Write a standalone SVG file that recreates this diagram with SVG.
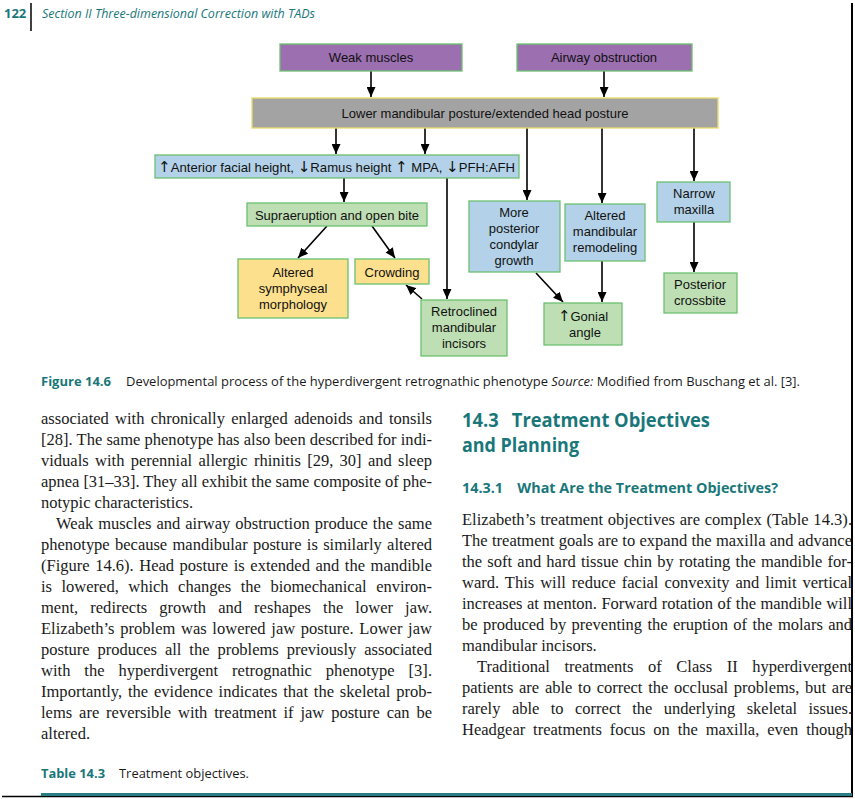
<svg xmlns="http://www.w3.org/2000/svg" width="855" height="799" viewBox="0 0 855 799">
<style>
.bx{stroke:#6cc070;stroke-width:1.3}
.pu{fill:#9b6fb0}
.gy{fill:#a4a3a4;stroke:#e9dc66;stroke-width:1.3}
.bl{fill:#b3d1e8}
.gr{fill:#bedfb4}
.ye{fill:#fde08e}
.nt{font-family:"Liberation Sans",Arial,sans-serif;font-size:13px;fill:#111;text-anchor:middle}
.ar{font-family:"DejaVu Sans",sans-serif;font-size:15px}
.con line{stroke:#000;stroke-width:1.6;marker-end:url(#ah)}
.body{font-family:"Liberation Serif","Times New Roman",serif;font-size:16.5px;fill:#1a1a1a}
.teal{fill:#19777a}
.hd{font-family:"Open Sans","Noto Sans",sans-serif;font-weight:bold}
.cap{font-family:"Open Sans","Noto Sans",sans-serif;font-size:12px;fill:#1a1a1a}
</style>
<defs>
<marker id="ah" markerUnits="userSpaceOnUse" markerWidth="10" markerHeight="9" refX="10" refY="4.5" orient="auto">
<path d="M0,0 L10,4.5 L0,9 z" fill="#000"/>
</marker>
</defs>
<rect width="855" height="799" fill="#fff"/>

<!-- page header -->
<text x="4" y="18" class="hd teal" font-size="13">122</text>
<line x1="31" y1="3" x2="31" y2="31" stroke="#000" stroke-width="1.5"/>
<text x="42" y="18" font-family="'Open Sans','Noto Sans',sans-serif" font-style="italic" font-size="13" class="teal" textLength="273" lengthAdjust="spacingAndGlyphs">Section II  Three-dimensional Correction with TADs</text>

<!-- connectors -->
<g id="connectors" class="con">
<line x1="371" y1="71" x2="371" y2="97"/>
<line x1="604" y1="71" x2="604" y2="97"/>
<line x1="336" y1="128" x2="336" y2="154"/>
<line x1="425" y1="128" x2="425" y2="154"/>
<line x1="527" y1="128" x2="527" y2="200"/>
<line x1="602" y1="128" x2="602" y2="203"/>
<line x1="694" y1="128" x2="694" y2="181"/>
<line x1="344" y1="178" x2="344" y2="202"/>
<line x1="447" y1="178" x2="447" y2="299"/>
<line x1="327" y1="226" x2="298" y2="258"/>
<line x1="372" y1="226" x2="395" y2="258"/>
<line x1="422" y1="299" x2="406" y2="285"/>
<line x1="536" y1="273" x2="563" y2="302"/>
<line x1="602" y1="261" x2="602" y2="302"/>
<line x1="694" y1="222" x2="694" y2="272"/>
</g>

<g id="weak-muscles"><rect x="280" y="44" width="182" height="27" class="bx pu"/><text x="371" y="62" class="nt">Weak muscles</text></g>
<g id="airway-obstruction"><rect x="517" y="44" width="175" height="27" class="bx pu"/><text x="604" y="62" class="nt">Airway obstruction</text></g>
<g id="lower-mandibular"><rect x="252" y="98" width="466" height="30" class="gy"/><text x="485" y="117.5" class="nt">Lower mandibular posture/extended head posture</text></g>
<g id="facial-height"><rect x="155" y="155" width="364" height="23" class="bx bl"/><text x="158" y="171.5" class="nt" style="text-anchor:start" textLength="357" lengthAdjust="spacingAndGlyphs"><tspan class="ar">↑</tspan>Anterior facial height, <tspan class="ar">↓</tspan>Ramus height <tspan class="ar">↑</tspan> MPA, <tspan class="ar">↓</tspan>PFH:AFH</text></g>
<g id="supraeruption"><rect x="247" y="203" width="180" height="23" class="bx gr"/><text x="337" y="219.5" class="nt">Supraeruption and open bite</text></g>
<g id="symphyseal"><rect x="238" y="259" width="110" height="59" class="bx ye"/><text class="nt"><tspan x="293" y="277">Altered</tspan><tspan x="293" y="293">symphyseal</tspan><tspan x="293" y="309">morphology</tspan></text></g>
<g id="crowding"><rect x="355" y="259" width="74" height="25" class="bx ye"/><text x="392" y="276.5" class="nt">Crowding</text></g>
<g id="retroclined"><rect x="421" y="300" width="86" height="56" class="bx gr"/><text class="nt"><tspan x="464" y="316">Retroclined</tspan><tspan x="464" y="332">mandibular</tspan><tspan x="464" y="348">incisors</tspan></text></g>
<g id="condylar"><rect x="469" y="201" width="91" height="71" class="bx bl"/><text class="nt"><tspan x="514" y="217">More</tspan><tspan x="514" y="233">posterior</tspan><tspan x="514" y="249">condylar</tspan><tspan x="514" y="265">growth</tspan></text></g>
<g id="remodeling"><rect x="565" y="204" width="80" height="57" class="bx bl"/><text class="nt"><tspan x="605" y="220">Altered</tspan><tspan x="605" y="236">mandibular</tspan><tspan x="605" y="252">remodeling</tspan></text></g>
<g id="gonial"><rect x="544" y="303" width="78" height="42" class="bx gr"/><text class="nt"><tspan x="583" y="321"><tspan class="ar">↑</tspan>Gonial</tspan><tspan x="585" y="337">angle</tspan></text></g>
<g id="narrow-maxilla"><rect x="657" y="182" width="73" height="40" class="bx bl"/><text class="nt"><tspan x="694" y="198">Narrow</tspan><tspan x="694" y="214">maxilla</tspan></text></g>
<g id="crossbite"><rect x="664" y="273" width="73" height="40" class="bx gr"/><text class="nt"><tspan x="700" y="289">Posterior</tspan><tspan x="700" y="305">crossbite</tspan></text></g>

<!-- caption -->
<text x="41" y="386" class="hd teal" font-size="12.5" textLength="70" lengthAdjust="spacingAndGlyphs">Figure 14.6</text>
<text x="126" y="386" class="cap" textLength="674" lengthAdjust="spacingAndGlyphs">Developmental process of the hyperdivergent retrognathic phenotype <tspan font-style="italic">Source:</tspan> Modified from Buschang et al. [3].</text>

<!-- left column -->
<g class="body">
<text x="41" y="424" word-spacing="2.1" textLength="391" lengthAdjust="spacing">associated with chronically enlarged adenoids and tonsils</text>
<text x="41" y="445" textLength="391" lengthAdjust="spacing">[28]. The same phenotype has also been described for indi-</text>
<text x="41" y="466" word-spacing="2.2" textLength="391" lengthAdjust="spacing">viduals with perennial allergic rhinitis [29, 30] and sleep</text>
<text x="41" y="487" textLength="391" lengthAdjust="spacing">apnea [31–33]. They all exhibit the same composite of phe-</text>
<text x="41" y="508">notypic characteristics.</text>
<text x="56" y="529" word-spacing="0.8" textLength="376" lengthAdjust="spacing">Weak muscles and airway obstruction produce the same</text>
<text x="41" y="550" word-spacing="1.2" textLength="391" lengthAdjust="spacing">phenotype because mandibular posture is similarly altered</text>
<text x="41" y="571" word-spacing="1.45" textLength="391" lengthAdjust="spacing">(Figure 14.6). Head posture is extended and the mandible</text>
<text x="41" y="592" word-spacing="5.4" textLength="391" lengthAdjust="spacing">is lowered, which changes the biomechanical environ-</text>
<text x="41" y="613" word-spacing="7.9" textLength="391" lengthAdjust="spacing">ment, redirects growth and reshapes the lower jaw.</text>
<text x="41" y="634" word-spacing="1.5" textLength="391" lengthAdjust="spacing">Elizabeth’s problem was lowered jaw posture. Lower jaw</text>
<text x="41" y="655" word-spacing="3.8" textLength="391" lengthAdjust="spacing">posture produces all the problems previously associated</text>
<text x="41" y="676" word-spacing="9.8" textLength="391" lengthAdjust="spacing">with the hyperdivergent retrognathic phenotype [3].</text>
<text x="41" y="697" word-spacing="1.65" textLength="391" lengthAdjust="spacing">Importantly, the evidence indicates that the skeletal prob-</text>
<text x="41" y="718" word-spacing="2.8" textLength="391" lengthAdjust="spacing">lems are reversible with treatment if jaw posture can be</text>
<text x="41" y="739">altered.</text>
</g>

<text x="41" y="778" class="hd teal" font-size="12.5" textLength="64" lengthAdjust="spacingAndGlyphs">Table 14.3</text>
<text x="119" y="778" class="cap" textLength="130" lengthAdjust="spacingAndGlyphs">Treatment objectives.</text>

<!-- right column -->
<text x="462" y="427" class="hd teal" font-size="19.5" textLength="248" lengthAdjust="spacingAndGlyphs">14.3<tspan dx="14">Treatment Objectives</tspan></text>
<text x="462" y="452" class="hd teal" font-size="19.5" textLength="117" lengthAdjust="spacingAndGlyphs">and Planning</text>
<text x="462" y="493" class="hd teal" font-size="14" textLength="316" lengthAdjust="spacingAndGlyphs">14.3.1<tspan dx="14">What Are the Treatment Objectives?</tspan></text>
<g class="body">
<text x="462" y="525" word-spacing="0.55" textLength="390" lengthAdjust="spacing">Elizabeth’s treatment objectives are complex (Table 14.3).</text>
<text x="462" y="546" word-spacing="0.2" textLength="390" lengthAdjust="spacing">The treatment goals are to expand the maxilla and advance</text>
<text x="462" y="567" word-spacing="1.05" textLength="390" lengthAdjust="spacing">the soft and hard tissue chin by rotating the mandible for-</text>
<text x="462" y="588" word-spacing="1.85" textLength="390" lengthAdjust="spacing">ward. This will reduce facial convexity and limit vertical</text>
<text x="462" y="609" word-spacing="0.35" textLength="390" lengthAdjust="spacing">increases at menton. Forward rotation of the mandible will</text>
<text x="462" y="630" word-spacing="1.2" textLength="390" lengthAdjust="spacing">be produced by preventing the eruption of the molars and</text>
<text x="462" y="651">mandibular incisors.</text>
<text x="477" y="672" word-spacing="10.4" textLength="375" lengthAdjust="spacing">Traditional treatments of Class II hyperdivergent</text>
<text x="462" y="693" word-spacing="1.6" textLength="390" lengthAdjust="spacing">patients are able to correct the occlusal problems, but are</text>
<text x="462" y="714" word-spacing="7.3" textLength="390" lengthAdjust="spacing">rarely able to correct the underlying skeletal issues.</text>
<text x="462" y="735" word-spacing="3.75" textLength="390" lengthAdjust="spacing">Headgear treatments focus on the maxilla, even though</text>
</g>
<line x1="852" y1="3" x2="852" y2="797" stroke="#000" stroke-width="2"/>

<!-- bottom rules -->
<line x1="2" y1="796.5" x2="853" y2="796.5" stroke="#000" stroke-width="1.5"/>
<rect x="41" y="793" width="811" height="3" fill="#2a7d80"/>
</svg>
